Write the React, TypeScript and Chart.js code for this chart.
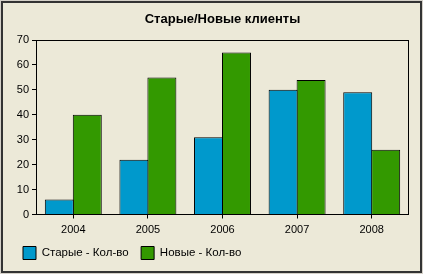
import React, { useEffect, useRef } from "react";
import { Chart, registerables } from "chart.js";

Chart.register(...registerables);

const categories = ["2004", "2005", "2006", "2007", "2008"];
const oldClients = [6, 22, 31, 50, 49];
const newClients = [40, 55, 65, 54, 26];
const seriesLabels = ["Старые - Кол-во", "Новые - Кол-во"];
const titleText = "Старые/Новые клиенты";
const yMin = 0;
const yMax = 70;
const yStep = 10;

const BG = "#ECE9D8";
const BLUE = "#0099CC";
const GREEN = "#339900";
const FONT = "'Liberation Sans', Arial, sans-serif";
const LEGEND_PAD = 12.5;

const plotFrame = {
  id: "plotFrame",
  afterLayout(chart: any) {
    // place legend row 12px below the x-axis label band
    const lg = chart.legend;
    const x = chart.scales.x;
    if (lg && x) {
      const h = lg.bottom - lg.top;
      lg.top = x.bottom + 12 - LEGEND_PAD;
      lg.bottom = lg.top + h;
    }
  },
  afterDatasetsDraw(chart: any) {
    const { ctx, chartArea: a } = chart;
    ctx.save();
    ctx.strokeStyle = "#000";
    ctx.lineWidth = 1;
    const l = Math.round(a.left) + 0.5;
    const t = Math.round(a.top) + 0.5;
    const r = Math.round(a.right) - 0.5;
    const b = Math.round(a.bottom) - 0.5;
    ctx.strokeRect(l, t, r - l, b - t);
    ctx.restore();
  },
};

export default function App() {
  const ref = useRef<HTMLCanvasElement | null>(null);

  useEffect(() => {
    if (!ref.current) return;
    const chart = new Chart(ref.current, {
      type: "bar",
      data: {
        labels: categories,
        datasets: [
          {
            label: seriesLabels[0],
            data: oldClients,
            backgroundColor: BLUE,
            borderColor: "#000",
            borderWidth: 1,
            inflateAmount: 0,
          },
          {
            label: seriesLabels[1],
            data: newClients,
            backgroundColor: GREEN,
            borderColor: "#000",
            borderWidth: 1,
            inflateAmount: 0,
          },
        ],
      },
      options: {
        animation: false,
        responsive: false,
        maintainAspectRatio: false,
        devicePixelRatio: 1,
        layout: { padding: { left: 10.5, right: 14, top: 0, bottom: 4 } },
        datasets: {
          bar: { categoryPercentage: 0.75, barPercentage: 1.036 },
        },
        plugins: {
          title: {
            display: true,
            text: titleText,
            fullSize: false,
            color: "#000",
            font: { family: FONT, size: 13, weight: "bold" },
            padding: { top: 11.7, bottom: 12.7 },
          },
          legend: {
            display: true,
            position: "bottom",
            align: "start",
            labels: {
              boxWidth: 13,
              boxHeight: 13,
              padding: LEGEND_PAD,
              color: "#000",
              font: { family: FONT, size: 11.5 },
            },
          },
          tooltip: { enabled: false },
        },
        scales: {
          x: {
            offset: true,
            border: { display: false },
            grid: {
              offset: false,
              drawOnChartArea: false,
              drawTicks: true,
              tickLength: 4,
              color: "#000",
            },
            ticks: { color: "#000", font: { family: FONT, size: 11 }, padding: 5 },
            afterFit(scale: any) {
              scale.height = 20;
            },
          },
          y: {
            min: yMin,
            max: yMax,
            border: { display: false },
            grid: {
              drawOnChartArea: false,
              drawTicks: true,
              tickLength: 4,
              color: "#000",
            },
            ticks: {
              stepSize: yStep,
              color: "#000",
              font: { family: FONT, size: 11 },
              padding: 3,
            },
            afterFit(scale: any) {
              scale.width = 25.5;
            },
          },
        },
      },
      plugins: [plotFrame],
    });
    return () => chart.destroy();
  }, []);

  return (
    <div
      style={{
        position: "fixed",
        left: 0,
        top: 0,
        width: 423,
        height: 274,
        boxSizing: "border-box",
        border: "1px solid #d4d0c8",
        background: BG,
      }}
    >
      <div
        style={{
          position: "absolute",
          left: 0,
          top: 0,
          right: 0,
          bottom: 0,
          border: "2px solid #333",
        }}
      />
      <canvas
        ref={ref}
        width={423}
        height={274}
        style={{ position: "absolute", left: -1, top: -1, width: 423, height: 274 }}
      />
    </div>
  );
}
